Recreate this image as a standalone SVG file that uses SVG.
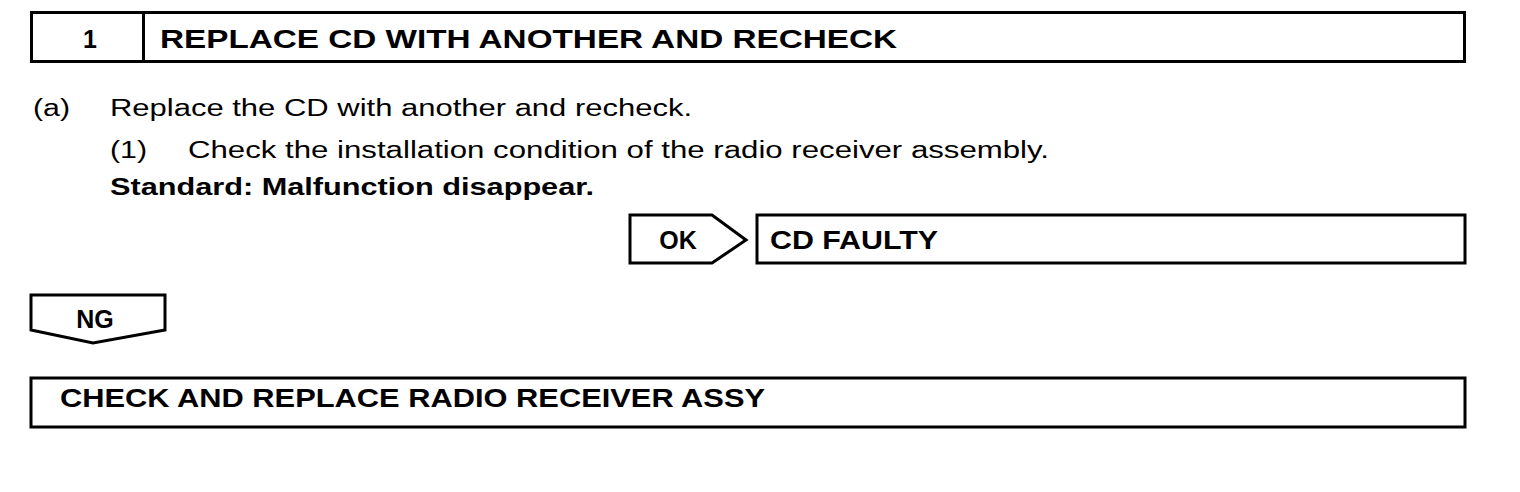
<svg xmlns="http://www.w3.org/2000/svg" width="1520" height="492" viewBox="0 0 1520 492">
<style>
.box{fill:#fff;stroke:#000;stroke-width:3}
.t{font-family:"Liberation Sans",Arial,sans-serif;fill:#000}
.b{font-weight:bold}
</style>
<rect width="1520" height="492" fill="#fff"/>
<g id="step1">
<rect class="box" x="31.5" y="12.5" width="1433" height="49"/>
<line x1="143.5" y1="12" x2="143.5" y2="62" stroke="#000" stroke-width="3"/>
<text class="t b" x="90" y="48" font-size="25" text-anchor="middle">1</text>
<text class="t b" x="160" y="48" font-size="25" textLength="737" lengthAdjust="spacingAndGlyphs">REPLACE CD WITH ANOTHER AND RECHECK</text>
</g>
<g id="instructions">
<text class="t" x="33" y="116" font-size="23.5" textLength="37" lengthAdjust="spacingAndGlyphs">(a)</text>
<text class="t" x="110" y="116" font-size="23.5" textLength="582" lengthAdjust="spacingAndGlyphs">Replace the CD with another and recheck.</text>
<text class="t" x="110" y="158" font-size="23.5" textLength="37" lengthAdjust="spacingAndGlyphs">(1)</text>
<text class="t" x="188" y="158" font-size="23.5" textLength="861" lengthAdjust="spacingAndGlyphs">Check the installation condition of the radio receiver assembly.</text>
<text class="t b" x="110" y="195" font-size="23.5" textLength="484" lengthAdjust="spacingAndGlyphs">Standard: Malfunction disappear.</text>
</g>
<g id="ok">
<polygon class="box" points="630,215 712,215 746,240 712,263 630,263"/>
<text class="t b" x="678" y="249" font-size="25" text-anchor="middle">OK</text>
</g>
<g id="cdfaulty">
<rect class="box" x="757" y="215" width="708" height="48"/>
<text class="t b" x="770" y="249" font-size="25" textLength="168" lengthAdjust="spacingAndGlyphs">CD FAULTY</text>
</g>
<g id="ng">
<polygon class="box" points="31,295 165,295 165,330 93,343 31,330"/>
<text class="t b" x="95" y="328" font-size="25" text-anchor="middle">NG</text>
</g>
<g id="replace">
<rect class="box" x="31" y="378" width="1434" height="49"/>
<text class="t b" x="60" y="407" font-size="25" textLength="705" lengthAdjust="spacingAndGlyphs">CHECK AND REPLACE RADIO RECEIVER ASSY</text>
</g>
<g id="connectors"></g>
</svg>
